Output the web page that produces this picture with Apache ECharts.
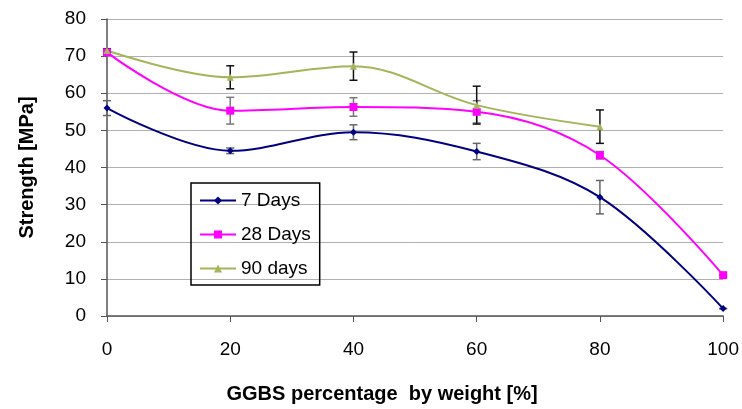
<!DOCTYPE html>
<html>
<head>
<meta charset="utf-8">
<script src="https://cdn.jsdelivr.net/npm/echarts@6/dist/echarts.min.js"></script>
<style>
  html, body { margin: 0; padding: 0; background: #fff; }
  #chart { width: 742px; height: 409px; }
</style>
</head>
<body>
<div id="chart"></div>
<script>
// GGBS percentage (x values)
const ggbs = [0, 20, 40, 60, 80, 100];

// strength in MPa
const days7 = [56, 44.5, 49.5, 44.3, 32, 2];
const days28 = [71, 55.3, 56.3, 55, 43.3, 11];
const days90 = [71.5, 64.3, 67.3, 56.8, 51];

// error bar half-widths
const err7 = [2, 0.75, 2, 2.2, 4.5, 0];
const err28 = [0.7, 3.6, 2.5, 3, 1, 0];
const err90 = [0.5, 3.1, 3.8, 5.1, 4.5];

const yTicks = [0, 10, 20, 30, 40, 50, 60, 70, 80];
const xTicks = [0, 20, 40, 60, 80, 100];

const font = 'Liberation Sans, Arial, sans-serif';

function pairs(vals) {
  return vals.map((v, i) => [ggbs[i], v]);
}

function errData(vals, errs) {
  return vals.map((v, i) => [ggbs[i], v - errs[i], v + errs[i]]);
}

function errSeries(vals, errs, color) {
  return {
    type: 'custom',
    data: errData(vals, errs),
    z: 1,
    silent: true,
    renderItem: function (params, api) {
      const top = api.coord([api.value(0), api.value(2)]);
      const bot = api.coord([api.value(0), api.value(1)]);
      const w = 4;
      const st = { stroke: color, lineWidth: 1.5 };
      return {
        type: 'group',
        children: [
          { type: 'line', shape: { x1: top[0], y1: top[1], x2: bot[0], y2: bot[1] }, style: st },
          { type: 'line', shape: { x1: top[0] - w, y1: top[1], x2: top[0] + w, y2: top[1] }, style: st },
          { type: 'line', shape: { x1: bot[0] - w, y1: bot[1], x2: bot[0] + w, y2: bot[1] }, style: st }
        ]
      };
    }
  };
}

const chart = echarts.init(document.getElementById('chart'));

const option = {
  animation: false,
  backgroundColor: '#fff',
  textStyle: { fontFamily: font },
  grid: { left: 107, right: 15, top: 19, bottom: 93 },
  legend: {
    orient: 'vertical',
    left: 191,
    top: 183,
    data: ['7 Days', '28 Days', '90 days'],
    borderColor: '#000',
    borderWidth: 1.5,
    padding: [8, 9, 7, 8],
    itemGap: 15,
    itemWidth: 36,
    itemHeight: 10,
    textStyle: { fontSize: 19, color: '#000', fontFamily: font }
  },
  xAxis: {
    type: 'value',
    min: 0,
    max: 100,
    interval: 20,
    name: 'GGBS percentage  by weight [%]',
    nameLocation: 'middle',
    nameGap: 68,
    nameTextStyle: { fontSize: 20, fontWeight: 'bold', color: '#000', fontFamily: font, padding: [0, 66, 0, 0] },
    axisLine: { lineStyle: { color: '#555', width: 1.5 } },
    axisTick: { show: true, inside: false, length: 6, lineStyle: { color: '#555' } },
    axisLabel: {
      fontSize: 19, color: '#000', margin: 24,
      formatter: v => xTicks.indexOf(v) >= 0 ? String(v) : ''
    },
    splitLine: { show: false }
  },
  yAxis: {
    type: 'value',
    min: 0,
    max: 80,
    interval: 10,
    name: 'Strength [MPa]',
    nameLocation: 'middle',
    nameGap: 70,
    nameTextStyle: { fontSize: 20, fontWeight: 'bold', color: '#000', fontFamily: font },
    axisLine: { show: true, lineStyle: { color: '#555', width: 1.5 } },
    axisTick: { show: true, length: 6, lineStyle: { color: '#555' } },
    axisLabel: {
      fontSize: 19, color: '#000', margin: 21,
      formatter: v => yTicks.indexOf(v) >= 0 ? String(v) : ''
    },
    splitLine: { show: true, lineStyle: { color: '#b0b0b0', width: 1 } }
  },
  series: [
    errSeries(days7, err7, '#666'),
    errSeries(days28, err28, '#777'),
    errSeries(days90, err90, '#111'),
    {
      name: '7 Days',
      type: 'line',
      data: pairs(days7),
      smooth: 0.35,
      symbol: 'diamond',
      symbolSize: 7,
      z: 3,
      lineStyle: { color: '#000080', width: 2 },
      itemStyle: { color: '#000080' }
    },
    {
      name: '28 Days',
      type: 'line',
      data: pairs(days28),
      smooth: 0.35,
      symbol: 'rect',
      symbolSize: 8,
      z: 3,
      lineStyle: { color: '#ff00ff', width: 2 },
      itemStyle: { color: '#ff00ff' }
    },
    {
      name: '90 days',
      type: 'line',
      data: pairs(days90),
      smooth: 0.35,
      symbol: 'triangle',
      symbolSize: 7,
      z: 3,
      lineStyle: { color: '#a4b55a', width: 2 },
      itemStyle: { color: '#a4b55a' }
    }
  ]
};

chart.setOption(option);
window.addEventListener('resize', function () {
  chart.resize();
});
</script>
</body>
</html>
